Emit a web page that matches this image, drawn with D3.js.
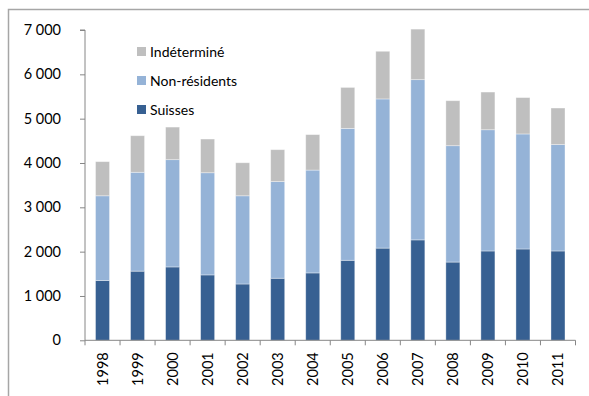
<!DOCTYPE html>
<html>
<head>
<meta charset="utf-8">
<script src="https://cdn.jsdelivr.net/npm/d3@7"></script>
<style>
  html, body { margin: 0; padding: 0; background: #fff; }
  svg { display: block; }
  text { font-family: Lato, "Liberation Sans", sans-serif; fill: #000; }
</style>
</head>
<body>
<svg id="chart" width="589" height="396"></svg>
<script>
// Années
const years = ["1998","1999","2000","2001","2002","2003","2004","2005","2006","2007","2008","2009","2010","2011"];
// Séries (empilées de bas en haut)
const suisses      = [1350,1560,1655,1475,1270,1400,1520,1805,2080,2265,1765,2015,2060,2015];
const nonResidents = [1910,2230,2420,2305,1990,2180,2320,2975,3365,3615,2625,2735,2595,2400];
const indetermine  = [ 770, 825, 735, 760, 745, 720, 800, 925,1075,1140,1015, 850, 820, 825];
// Graduations de l'axe vertical
const yTicks = [0,1000,2000,3000,4000,5000,6000,7000];

const seriesNames = ["Suisses","Non-résidents","Indéterminé"];
const colors = {"Suisses":"#376092","Non-résidents":"#95b3d7","Indéterminé":"#bfbfbf"};

const rows = years.map((y, i) => ({
  year: y,
  "Suisses": suisses[i],
  "Non-résidents": nonResidents[i],
  "Indéterminé": indetermine[i]
}));

const svg = d3.select("#chart");
const m = {left: 85, right: 13.5, top: 30, bottom: 55.7};
const W = 589, H = 396;

// Cadre
svg.append("path")
  .attr("d", `M8.5,396 V9.5 H589`)
  .attr("fill", "none")
  .attr("stroke", "#a6a6a6")
  .attr("stroke-width", 1.5);

const x = d3.scaleBand().domain(years).range([m.left, W - m.right]).paddingInner(0.6).paddingOuter(0.3);
const y = d3.scaleLinear().domain([0, 7000]).range([H - m.bottom, m.top]);

const stack = d3.stack().keys(seriesNames)(rows);

// Barres empilées
svg.append("g")
  .selectAll("g.series")
  .data(stack)
  .join("g")
  .attr("class", "series")
  .attr("fill", d => colors[d.key])
  .selectAll("rect")
  .data(d => d)
  .join("rect")
  .attr("x", d => x(d.data.year))
  .attr("width", x.bandwidth())
  .attr("y", d => y(d[1]))
  .attr("height", d => y(d[0]) - y(d[1]))
  .attr("stroke", "#ffffff")
  .attr("stroke-opacity", 0.45)
  .attr("stroke-width", 0.8);

// Séparateur de milliers : espace
const fmt = d => d3.format(",")(d).replace(/,/g, " ");

// Axe vertical
const yAxis = svg.append("g")
  .attr("transform", `translate(${m.left},0)`)
  .call(d3.axisLeft(y).tickValues(yTicks).tickSize(5).tickPadding(19).tickFormat(fmt));
yAxis.select(".domain").attr("stroke", "#868686").attr("d", `M-5,${y(7000)}H0V${y(0)}`);
yAxis.selectAll(".tick line").attr("stroke", "#868686");
yAxis.selectAll(".tick text").style("font-size", "14.5px").attr("fill", "#000");

// Axe horizontal avec graduations entre les catégories
const xAxisG = svg.append("g").attr("transform", `translate(0,${y(0)})`);
xAxisG.append("line")
  .attr("x1", m.left).attr("x2", W - m.right)
  .attr("stroke", "#868686");
const bounds = d3.range(years.length + 1).map(i => m.left + i * (W - m.right - m.left) / years.length);
xAxisG.selectAll("line.tk")
  .data(bounds)
  .join("line")
  .attr("class", "tk")
  .attr("x1", d => d).attr("x2", d => d)
  .attr("y1", 0).attr("y2", 5)
  .attr("stroke", "#868686");
xAxisG.selectAll("text")
  .data(years)
  .join("text")
  .attr("transform", d => `translate(${x(d) + x.bandwidth() / 2 + 5},12) rotate(-90)`)
  .attr("text-anchor", "end")
  .style("font-size", "14.5px")
  .text(d => d);

// Légende
const legendItems = ["Indéterminé","Non-résidents","Suisses"];
const lg = svg.append("g").attr("transform", "translate(137,47)");
const li = lg.selectAll("g").data(legendItems).join("g")
  .attr("transform", (d, i) => `translate(0,${i * 29})`);
li.append("rect").attr("width", 9).attr("height", 9).attr("fill", d => colors[d]);
li.append("text").attr("x", 13).attr("y", 9.5).style("font-size", "14px").text(d => d);
</script>
</body>
</html>
